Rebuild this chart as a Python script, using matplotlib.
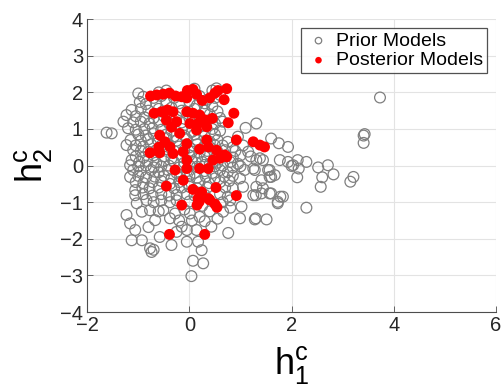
import numpy as np
import matplotlib
matplotlib.use('Agg')
from matplotlib import pyplot as plt

plt.rcParams['font.family'] = ['Liberation Sans', 'DejaVu Sans']
plt.rcParams['mathtext.fontset'] = 'custom'
plt.rcParams['mathtext.rm'] = 'Liberation Sans'
plt.rcParams['mathtext.it'] = 'Liberation Sans'

# prior models (grey open circles)
prior_h1 = [
    -0.6, -0.45, 0.1, 0.45, 0.53, 0.6,
    -1.0, -0.9, -0.7, -0.55, -0.3, 0.2, 0.35, 0.5, 3.73,
    -0.97, -0.85, -0.65, -0.45, -0.2, 0.0, 0.15, 0.3, 0.45,
    -1.13, -0.95, -0.8, -0.6, -0.35, -0.15, 0.1, 0.3, 0.55,
    -1.23, -1.05, -0.88, -0.7, -0.5, -0.25, 0.0, 0.2, 0.4, 0.6,
    -1.29, -1.1, -0.95, -0.78, -0.6, -0.4, -0.15, 0.05, 0.25, 0.5, 0.65, 1.31,
    -1.2, -1.05, -0.88, -0.72, -0.55, -0.35, -0.15, 0.05, 0.25, 0.45, 0.6, 1.1,
    -1.62, -1.52, -1.0, -0.85, -0.7, -0.45, -0.3, -0.1, 0.1, 0.3, 0.5, 0.95, 3.43, 3.41, 3.41,
    -1.15, -0.95, -0.8, -0.62, -0.45, -0.25, -0.05, 0.15, 0.4, 0.55, 0.75, 1.6,
    -1.23, -1.05, -0.9, -0.75, -0.55, -0.4, -0.2, 0.0, 0.15, 0.3, 0.5, 0.65, 0.85, 1.05, 1.75, 1.93,
    -1.1, -0.95, -0.8, -0.65, -0.45, -0.3, -0.1, 0.05, 0.2, 0.35, 0.55, 0.7, 0.9, 1.15,
    -1.05, -0.9, -0.7, -0.5, -0.35, -0.15, 0.0, 0.15, 0.3, 0.5, 0.65, 0.85, 1.0, 1.2,
    -1.13, -0.98, -0.82, -0.65, -0.5, -0.3, -0.1, 0.05, 0.25, 0.4, 0.55, 0.8, 0.95, 1.31, 1.38, 1.44, 1.77, 1.93, 2.12, 2.29,
    -1.16, -1.0, -0.85, -0.7, -0.55, -0.4, -0.2, 0.0, 0.15, 0.3, 0.5, 0.65, 0.85, 1.0, 2.0, 2.03, 2.71, 2.52,
    -1.1, -0.95, -0.75, -0.6, -0.42, -0.25, -0.05, 0.1, 0.3, 0.45, 0.6, 0.75, 1.08, 1.25, 1.28, 1.54, 1.57, 2.14,
    -1.16, -1.0, -0.85, -0.68, -0.5, -0.35, -0.18, 0.0, 0.15, 0.32, 0.5, 0.68, 0.85, 0.99, 1.57, 1.6, 1.67, 2.11, 2.6, 2.82, 3.21, 3.15,
    -1.05, -0.9, -0.72, -0.55, -0.38, -0.2, -0.02, 0.2, 0.38, 0.6, 0.78, 1.41,
    -1.06, -0.92, -0.78, -0.6, -0.3, -0.15, 0.0, 0.15, 0.35, 0.7, 0.85, 1.05, 1.31, 1.44, 2.57,
    -1.06, -0.9, -0.72, -0.55, -0.4, -0.25, -0.05, 0.1, 0.3, 0.6, 0.75, 1.25, 1.3, 1.41, 1.57, 1.6, 1.78, 1.83,
    -1.03, -0.84, -0.7, -0.55, -0.38, -0.25, 0.0, 0.25, 0.65, 0.8, 1.02, 1.73, 1.73,
    -0.93, -0.77, -0.6, -0.51, -0.28, -0.1, 0.01, 0.2, 0.4, 0.66, 0.8, 2.29,
    -1.23, -0.67, -0.38, -0.2, 0.05, 0.3, 0.55, 0.99, 1.28, 1.3, 1.51,
    -1.16, -1.06, -0.8, -0.25, -0.15, -0.05, 0.14, 0.43, 0.76,
    -1.13, -0.93, -0.58, -0.35, -0.05, 0.17, 0.24, -0.77, -0.74, -0.7,
    0.07, 0.27, 0.04,
]
prior_h2 = [
    2.0, 2.05, 2.1, 2.05, 2.11, 1.93,
    1.97, 1.88, 1.85, 1.9, 1.85, 1.9, 1.8, 1.85, 1.86,
    1.74, 1.68, 1.7, 1.72, 1.7, 1.75, 1.65, 1.7, 1.62,
    1.52, 1.55, 1.5, 1.55, 1.58, 1.5, 1.55, 1.5, 1.48,
    1.38, 1.35, 1.32, 1.3, 1.35, 1.33, 1.3, 1.28, 1.4, 1.3,
    1.2, 1.18, 1.2, 1.15, 1.2, 1.15, 1.18, 1.22, 1.1, 1.15, 1.2, 1.15,
    1.02, 0.98, 1.0, 1.02, 0.98, 0.95, 1.0, 0.92, 0.95, 1.0, 0.95, 1.03,
    0.9, 0.88, 0.85, 0.82, 0.88, 0.85, 0.8, 0.82, 0.85, 0.8, 0.85, 0.79, 0.86, 0.82, 0.62,
    0.7, 0.68, 0.72, 0.7, 0.75, 0.68, 0.72, 0.7, 0.65, 0.7, 0.65, 0.74,
    0.56, 0.55, 0.52, 0.58, 0.55, 0.58, 0.52, 0.5, 0.58, 0.55, 0.55, 0.55, 0.5, 0.55, 0.61, 0.51,
    0.42, 0.4, 0.38, 0.42, 0.45, 0.4, 0.42, 0.38, 0.35, 0.4, 0.38, 0.42, 0.4, 0.38,
    0.25, 0.22, 0.28, 0.25, 0.2, 0.25, 0.28, 0.2, 0.25, 0.3, 0.25, 0.22, 0.28, 0.25,
    0.15, 0.1, 0.12, 0.08, 0.12, 0.1, 0.08, 0.12, 0.1, 0.05, 0.08, 0.1, 0.05, 0.15, 0.2, 0.15, 0.15, 0.1, 0.15, 0.1,
    0.01, -0.02, 0.0, -0.05, -0.02, 0.0, -0.05, 0.0, -0.03, 0.02, -0.02, 0.0, -0.05, -0.02, -0.01, 0.01, 0.01, -0.05,
    -0.12, -0.15, -0.12, -0.18, -0.12, -0.2, -0.15, -0.2, -0.15, -0.2, -0.12, -0.18, -0.12, -0.08, -0.12, -0.12, -0.12, -0.08,
    -0.31, -0.28, -0.32, -0.3, -0.28, -0.35, -0.3, -0.28, -0.33, -0.3, -0.35, -0.3, -0.28, -0.35, -0.31, -0.31, -0.26, -0.32, -0.32, -0.24, -0.31, -0.44,
    -0.45, -0.48, -0.45, -0.42, -0.5, -0.45, -0.5, -0.45, -0.48, -0.45, -0.42, -0.4,
    -0.67, -0.6, -0.62, -0.6, -0.62, -0.6, -0.58, -0.62, -0.6, -0.6, -0.62, -0.58, -0.58, -0.62, -0.58,
    -0.81, -0.78, -0.82, -0.78, -0.82, -0.8, -0.78, -0.82, -0.8, -0.78, -0.85, -0.81, -0.81, -0.76, -0.76, -0.76, -0.85, -0.85,
    -1.03, -0.94, -1.0, -0.95, -1.0, -0.95, -0.98, -1.1, -1.0, -0.95, -1.12, -0.99, -1.03,
    -1.26, -1.22, -1.25, -1.22, -1.31, -1.2, -1.31, -1.4, -1.25, -1.26, -1.15, -1.15,
    -1.35, -1.49, -1.44, -1.5, -1.5, -1.52, -1.45, -1.44, -1.47, -1.44, -1.47,
    -1.58, -1.76, -1.68, -1.81, -1.67, -1.76, -1.76, -1.67, -1.84,
    -2.04, -2.04, -1.95, -2.17, -2.08, -2.08, -2.31, -2.26, -2.36, -2.3,
    -2.6, -2.67, -3.02,
]

# posterior models (red filled)
post_h1 = [
    -0.76, -0.64, -0.51, -0.39, -0.27, -0.15, -0.04, 0.07, 0.14, 0.40, 0.50, 0.56, 0.73, 0.68, 0.25, -0.05,
    -0.69, -0.54, -0.43, -0.32, -0.05, 0.07, 0.2, 0.45, 0.87, 0.76,
    -0.45, -0.25, 0.01, 0.17, 0.34, -0.19, -0.58, 0.14, -0.35, 0.3,
    -0.48, -0.38, -0.05, 0.34, 0.37, 0.53, 0.69, 0.92, 1.25, 1.38, 1.47, -0.77, -0.58, -0.32, -0.12, -0.05, 0.2, -0.6,
    0.46, 0.6, 0.73, 0.2, 0.37, -0.28, -0.05, -0.12, -0.45, 0.07, 0.24, 0.52, 0.92, 0.17, 0.37,
    -0.15, 0.15, 0.19, 0.4, 0.5, 0.54, -0.39, 0.3,
]
post_h2 = [
    1.9, 1.93, 1.95, 1.98, 1.9, 1.88, 2.05, 2.08, 1.95, 1.85, 1.98, 2.05, 2.1, 1.8, 1.78, 1.85,
    1.43, 1.47, 1.52, 1.47, 1.47, 1.43, 1.38, 1.29, 1.43, 1.17,
    1.24, 1.2, 1.15, 1.15, 1.06, 0.88, 0.83, 0.97, 1.05, 1.25,
    0.65, 0.51, 0.6, 0.7, 0.51, 0.42, 0.29, 0.70, 0.65, 0.56, 0.51, 0.35, 0.35, 0.33, 0.38, 0.15, 0.45, 0.5,
    0.15, 0.2, 0.24, -0.08, -0.08, -0.12, -0.08, -0.4, -0.56, -0.65, -0.72, -0.6, -0.82, -0.9, -0.9,
    -1.08, -1.08, -0.99, -0.94, -1.05, -1.14, -1.88, -1.88,
]

fig = plt.figure(figsize=(5.01, 3.91), dpi=100)
ax = fig.add_axes([0.174, 0.202, 0.816, 0.749])

ax.scatter(prior_h1, prior_h2, s=60, facecolors='none', edgecolors='#7f7f7f',
           linewidths=0.9, label='Prior Models', zorder=3)
ax.scatter(post_h1, post_h2, s=62, c='#ff0000', edgecolors='none',
           label='Posterior Models', zorder=4)

ax.set_xlim(-2, 6)
ax.set_ylim(-4, 4)
ax.set_xticks([-2, 0, 2, 4, 6])
ax.set_yticks(np.arange(-4, 5, 1))
ax.grid(True, color='#e3e3e3', linewidth=0.8, zorder=0)
ax.set_axisbelow(True)
for side in ['top', 'right']:
    ax.spines[side].set_visible(False)
for side in ['left', 'bottom']:
    ax.spines[side].set_color('#4d4d4d')
    ax.spines[side].set_linewidth(0.8)
ax.tick_params(direction='in', length=4, width=0.6, colors='#4d4d4d',
               labelcolor='#262626', labelsize=14.5, pad=3)

ax.set_xlabel(r'$\mathregular{h}_1^\mathregular{c}$', fontsize=26, labelpad=6)
ax.set_ylabel(r'$\mathregular{h}_2^\mathregular{c}$', fontsize=26, labelpad=4)

leg = ax.legend(loc='upper right', fontsize=14, frameon=True, fancybox=False,
                edgecolor='#262626', markerscale=0.6, handletextpad=0.2,
                borderpad=0.2, labelspacing=0.1, handlelength=1.4,
                borderaxespad=0, bbox_to_anchor=(0.978, 0.969))
leg.get_frame().set_linewidth(0.9)

fig.savefig('out.png', dpi=100)
